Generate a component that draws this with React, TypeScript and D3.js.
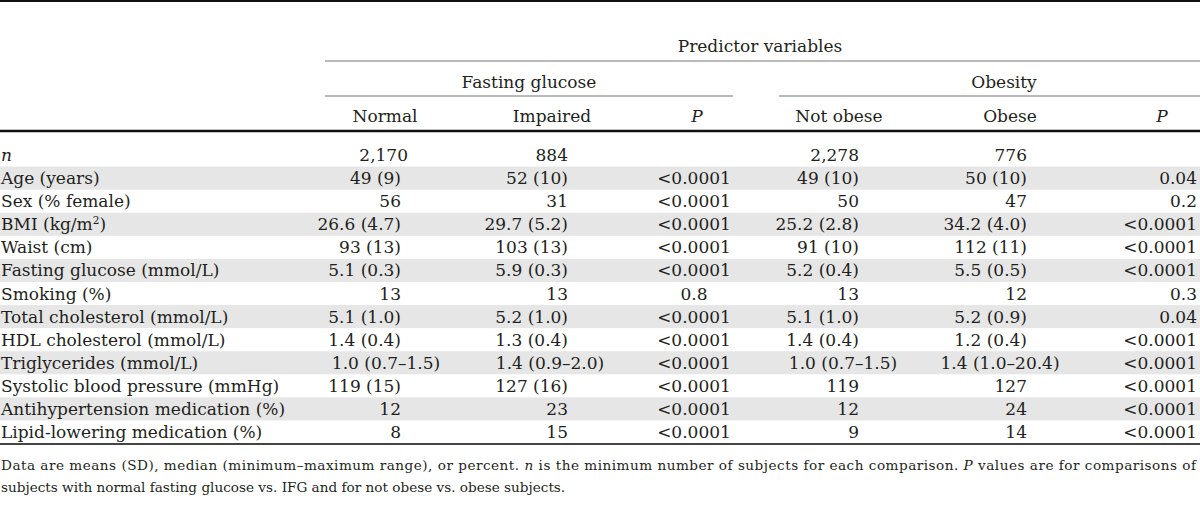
import React from "react";
import * as d3 from "d3";

// ---------- data ----------
const spanner = "Predictor variables";
const groupHeaders = ["Fasting glucose", "Obesity"];
const columnHeaders = ["Normal", "Impaired", "P", "Not obese", "Obese", "P"];

const rowLabels = [
  "n",
  "Age (years)",
  "Sex (% female)",
  "BMI (kg/m^2)",
  "Waist (cm)",
  "Fasting glucose (mmol/L)",
  "Smoking (%)",
  "Total cholesterol (mmol/L)",
  "HDL cholesterol (mmol/L)",
  "Triglycerides (mmol/L)",
  "Systolic blood pressure (mmHg)",
  "Antihypertension medication (%)",
  "Lipid-lowering medication (%)",
];
const normalGlucose = ["2,170", "49 (9)", "56", "26.6 (4.7)", "93 (13)", "5.1 (0.3)", "13", "5.1 (1.0)", "1.4 (0.4)", "1.0 (0.7–1.5)", "119 (15)", "12", "8"];
const impairedGlucose = ["884", "52 (10)", "31", "29.7 (5.2)", "103 (13)", "5.9 (0.3)", "13", "5.2 (1.0)", "1.3 (0.4)", "1.4 (0.9–2.0)", "127 (16)", "23", "15"];
const pGlucose = ["", "<0.0001", "<0.0001", "<0.0001", "<0.0001", "<0.0001", "0.8", "<0.0001", "<0.0001", "<0.0001", "<0.0001", "<0.0001", "<0.0001"];
const notObese = ["2,278", "49 (10)", "50", "25.2 (2.8)", "91 (10)", "5.2 (0.4)", "13", "5.1 (1.0)", "1.4 (0.4)", "1.0 (0.7–1.5)", "119", "12", "9"];
const obese = ["776", "50 (10)", "47", "34.2 (4.0)", "112 (11)", "5.5 (0.5)", "12", "5.2 (0.9)", "1.2 (0.4)", "1.4 (1.0–20.4)", "127", "24", "14"];
const pObesity = ["", "0.04", "0.2", "<0.0001", "<0.0001", "<0.0001", "0.3", "0.04", "<0.0001", "<0.0001", "<0.0001", "<0.0001", "<0.0001"];
const shadedRows = [1, 3, 5, 7, 9, 11];

const footnoteLine1 = [
  { t: "Data are means (SD), median (minimum–maximum range), or percent. ", i: false },
  { t: "n", i: true },
  { t: " is the minimum number of subjects for each comparison. ", i: false },
  { t: "P", i: true },
  { t: " values are for comparisons of", i: false },
];
const footnoteLine2 = "subjects with normal fasting glucose vs. IFG and for not obese vs. obese subjects.";

// ---------- layout ----------
const W = 1200;
const H = 520;
const FONT = "'DejaVu Serif', serif";
const FS = 17;
const INK = "#231f20";

const columns = [
  { values: normalGlucose, header: 385, right: 401, center: 386, mode: "num" },
  { values: impairedGlucose, header: 552, right: 568, center: 550, mode: "num" },
  { values: pGlucose, header: 697, right: 0, center: 694, mode: "center" },
  { values: notObese, header: 839, right: 859, center: 843, mode: "num" },
  { values: obese, header: 1010, right: 1027, center: 1000, mode: "num" },
  { values: pObesity, header: 1162, right: 1197, center: 0, mode: "right" },
];

const rowY = d3
  .scaleBand<number>()
  .domain(d3.range(rowLabels.length))
  .range([143.5, 143.5 + rowLabels.length * 23.08])
  .paddingInner(0);

function Label({ text, y }: { text: string; y: number }) {
  if (text === "n") {
    return (
      <text x={1} y={y} fontStyle="italic">
        n
      </text>
    );
  }
  const parts = text.split("^");
  if (parts.length === 2) {
    const sup = parts[1].charAt(0);
    const rest = parts[1].slice(1);
    return (
      <text x={1} y={y}>
        {parts[0]}
        <tspan dy={-6} fontSize={FS * 0.62}>
          {sup}
        </tspan>
        <tspan dy={6}>{rest}</tspan>
      </text>
    );
  }
  return (
    <text x={1} y={y}>
      {text}
    </text>
  );
}

export default function App() {
  const bw = rowY.bandwidth();
  const baseOff = bw / 2 + 6;
  const lastRowBottom = (rowY(rowLabels.length - 1) as number) + bw;

  return (
    <svg
      width={W}
      height={H}
      style={{ position: "absolute", left: 0, top: 0, background: "#fff" }}
      fontFamily={FONT}
      fontSize={FS}
      fill={INK}
    >
      {/* shaded bands */}
      {shadedRows.map((i) => (
        <rect key={i} x={0} y={rowY(i)} width={W} height={bw} fill="#e6e6e6" />
      ))}

      {/* rules */}
      <line x1={0} x2={W} y1={1} y2={1} stroke="#111" strokeWidth={2} />
      <line x1={325} x2={W} y1={61} y2={61} stroke="#777" strokeWidth={1.2} />
      <line x1={325} x2={733} y1={96} y2={96} stroke="#777" strokeWidth={1.2} />
      <line x1={779} x2={W} y1={96} y2={96} stroke="#777" strokeWidth={1.2} />
      <line x1={0} x2={W} y1={131} y2={131} stroke="#111" strokeWidth={2.5} />
      <line x1={0} x2={W} y1={lastRowBottom + 0.5} y2={lastRowBottom + 0.5} stroke="#444" strokeWidth={2} />

      {/* headers */}
      <text x={760} y={52} textAnchor="middle">
        {spanner}
      </text>
      <text x={529} y={88} textAnchor="middle">
        {groupHeaders[0]}
      </text>
      <text x={1004} y={88} textAnchor="middle">
        {groupHeaders[1]}
      </text>
      {columns.map((c, j) => (
        <text
          key={j}
          x={c.header}
          y={122}
          textAnchor="middle"
          fontStyle={columnHeaders[j] === "P" ? "italic" : "normal"}
        >
          {columnHeaders[j]}
        </text>
      ))}

      {/* body */}
      {rowLabels.map((lab, i) => {
        const y = (rowY(i) as number) + baseOff;
        return (
          <g key={i}>
            <Label text={lab} y={y} />
            {columns.map((c, j) => {
              const v = c.values[i];
              if (!v) return null;
              let x = c.right;
              let anchor = "end";
              if (c.mode === "center") {
                x = c.center;
                anchor = "middle";
              } else if (c.mode === "num") {
                if (v.includes("–")) {
                  x = c.center;
                  anchor = "middle";
                } else if (i === 0 && j === 0) {
                  x = c.right + 7;
                }
              }
              return (
                <text key={j} x={x} y={y} textAnchor={anchor}>
                  {v}
                </text>
              );
            })}
          </g>
        );
      })}

      {/* footnote */}
      <text x={1} y={lastRowBottom + 26} fontSize={13.6} textLength={1195} lengthAdjust="spacing">
        {footnoteLine1.map((p, k) => (
          <tspan key={k} fontStyle={p.i ? "italic" : "normal"}>
            {p.t}
          </tspan>
        ))}
      </text>
      <text x={1} y={lastRowBottom + 48} fontSize={13.6}>
        {footnoteLine2}
      </text>
    </svg>
  );
}
